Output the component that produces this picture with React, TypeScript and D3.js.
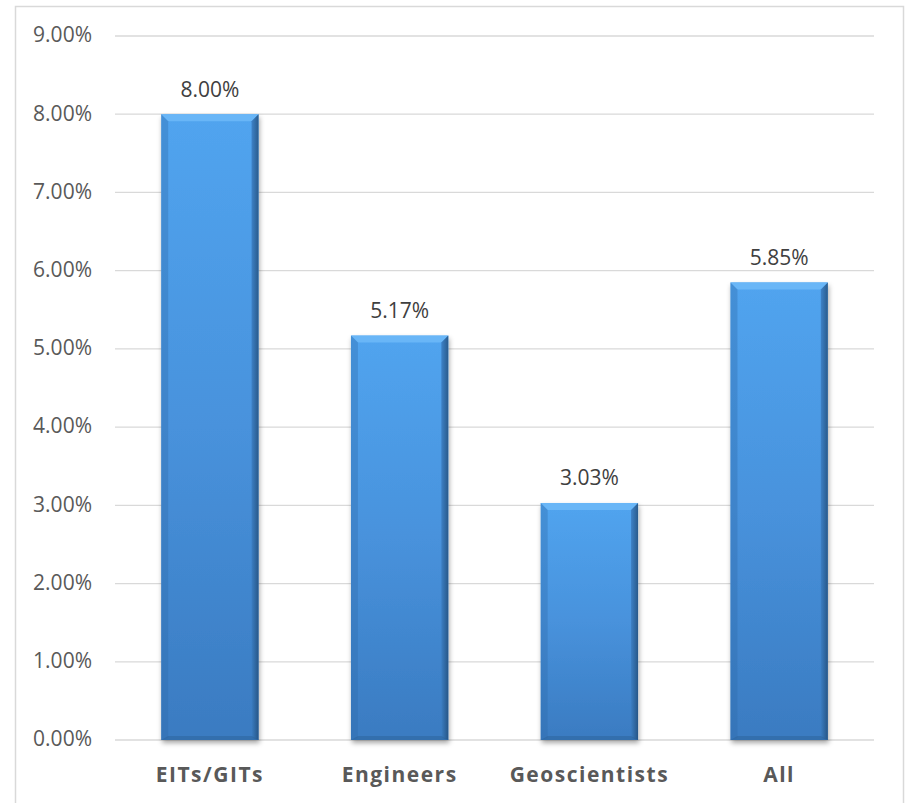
import React from "react";
import * as d3 from "d3";

const categories: string[] = ["EITs/GITs", "Engineers", "Geoscientists", "All"];
const values: number[] = [8.0, 5.17, 3.03, 5.85];
const yTicks: number[] = [0, 1, 2, 3, 4, 5, 6, 7, 8, 9];

const W = 911;
const H = 803;
const plot = { left: 115, right: 874, top: 36, bottom: 740 };
const FONT = "'Open Sans', Lato, 'Liberation Sans', sans-serif";

export default function App() {
  const y = d3.scaleLinear().domain([0, 9]).range([plot.bottom, plot.top]);
  const x = d3
    .scaleBand<string>()
    .domain(categories)
    .range([plot.left, plot.right])
    .paddingInner(0.487)
    .paddingOuter(0.2435);
  const bw = x.bandwidth();
  const bev = 7;
  const fmt = (v: number) => v.toFixed(2) + "%";

  return (
    <svg
      width={W}
      height={H}
      style={{ position: "absolute", left: 0, top: 0, background: "#fff" }}
    >
      <defs>
        <linearGradient id="barFill" x1="0" y1="0" x2="0" y2="1">
          <stop offset="0" stopColor="#51a4ef" />
          <stop offset="0.5" stopColor="#4892dc" />
          <stop offset="1" stopColor="#3a7bc1" />
        </linearGradient>
        <linearGradient id="rightEdge" x1="0" y1="0" x2="1" y2="0">
          <stop offset="0" stopColor="#3a7cc0" />
          <stop offset="1" stopColor="#234f7c" />
        </linearGradient>
        <filter id="barShadow" x="-20%" y="-5%" width="140%" height="115%">
          <feDropShadow dx="1" dy="3" stdDeviation="2.5" floodColor="#000" floodOpacity="0.35" />
        </filter>
      </defs>

      {/* chart frame */}
      <rect x={15.5} y={6.5} width={888} height={810} fill="#fff" stroke="#d9d9d9" strokeWidth={1.5} />

      {/* gridlines and y labels */}
      {yTicks.map((t) => (
        <g key={t}>
          <line
            x1={plot.left}
            x2={plot.right}
            y1={y(t)}
            y2={y(t)}
            stroke="#d9d9d9"
            strokeWidth={1.3}
          />
          <text
            x={92}
            y={y(t)}
            dy="0.3em"
            textAnchor="end"
            fontFamily={FONT}
            fontSize={21}
            fill="#595959"
          >
            {fmt(t)}
          </text>
        </g>
      ))}

      {/* bars */}
      {categories.map((c, i) => {
        const x0 = x(c)!;
        const x1 = x0 + bw;
        const y0 = y(values[i]);
        const y1 = y(0);
        return (
          <g key={c}>
            <rect x={x0} y={y0} width={bw} height={y1 - y0} fill="url(#barFill)" filter="url(#barShadow)" />
            {/* top bevel */}
            <polygon
              points={`${x0},${y0} ${x1},${y0} ${x1 - bev},${y0 + bev} ${x0 + bev},${y0 + bev}`}
              fill="#6bb8f7"
              opacity={0.9}
            />
            {/* right bevel */}
            <polygon
              points={`${x1},${y0} ${x1},${y1} ${x1 - bev},${y1 - 2} ${x1 - bev},${y0 + bev}`}
              fill="url(#rightEdge)"
              opacity={0.85}
            />
            {/* left bevel */}
            <polygon
              points={`${x0},${y0} ${x0 + bev},${y0 + bev} ${x0 + bev},${y1 - 2} ${x0},${y1}`}
              fill="#2f6aa8"
              opacity={0.35}
            />
            {/* bottom bevel */}
            <polygon
              points={`${x0},${y1} ${x0 + bev},${y1 - 4} ${x1 - bev},${y1 - 4} ${x1},${y1}`}
              fill="#2c6199"
              opacity={0.5}
            />
            <text
              x={x0 + bw / 2}
              y={y0 - 17.5}
              textAnchor="middle"
              fontFamily={FONT}
              fontSize={21}
              fill="#404040"
            >
              {fmt(values[i])}
            </text>
            <text
              x={x0 + bw / 2}
              y={782}
              textAnchor="middle"
              fontFamily={FONT}
              fontSize={21}
              fontWeight="bold"
              letterSpacing={1.5}
              fill="#595959"
            >
              {c}
            </text>
          </g>
        );
      })}
    </svg>
  );
}
